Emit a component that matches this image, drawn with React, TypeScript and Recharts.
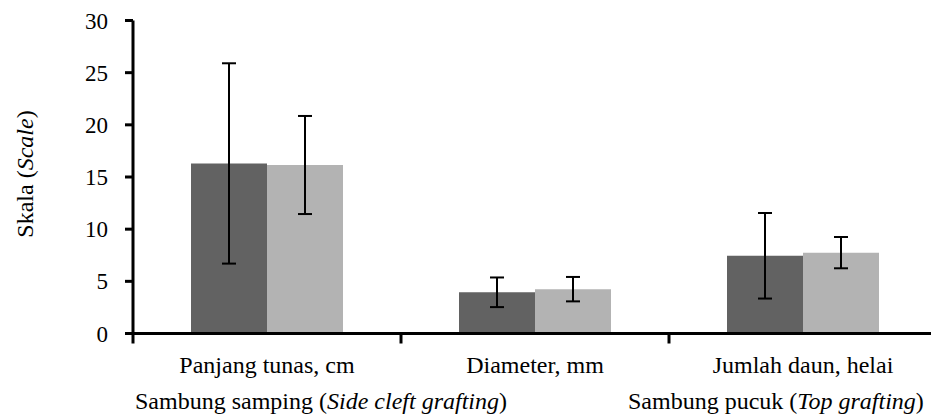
import React from 'react';
import { BarChart, Bar, XAxis, YAxis, ErrorBar } from 'recharts';

const categories = ['Panjang tunas, cm', 'Diameter, mm', 'Jumlah daun, helai'];
const sideValues = [16.3, 3.95, 7.45];
const sideErrors = [9.6, 1.42, 4.1];
const topValues = [16.15, 4.25, 7.75];
const topErrors = [4.7, 1.17, 1.5];
const yTicks = [0, 5, 10, 15, 20, 25, 30];
const seriesNames = [
  { plain: 'Sambung samping (', italic: 'Side cleft grafting', end: ')' },
  { plain: 'Sambung pucuk (', italic: 'Top grafting', end: ')' },
];
const yLabel = { plain: 'Skala (', italic: 'Scale', end: ')' };

const data = categories.map((name, i) => ({
  name,
  side: sideValues[i],
  sideErr: sideErrors[i],
  top: topValues[i],
  topErr: topErrors[i],
}));

const FONT = '"Liberation Serif", "Times New Roman", serif';
const FS = 23;
const LFS = 24;

function XTick(props: any) {
  const { x, y, payload, index, visibleTicksCount } = props;
  const half = payload && payload.offset ? payload.offset : 0;
  return (
    <g>
      <line x1={x - half} x2={x - half} y1={y} y2={y + 10} stroke="#000" strokeWidth={3} />
      {index === visibleTicksCount - 1 && (
        <line x1={x + half} x2={x + half} y1={y} y2={y + 10} stroke="#000" strokeWidth={3} />
      )}
      <text x={x} y={y + 39} textAnchor="middle" fontSize={LFS} fontFamily={FONT} fill="#000">
        {payload.value}
      </text>
    </g>
  );
}

function YLabel(props: any) {
  const vb = props.viewBox || {};
  const cx = (vb.x || 0) + 33;
  const cy = (vb.y || 0) + (vb.height || 0) / 2 - 3;
  return (
    <text
      x={cx}
      y={cy}
      textAnchor="middle"
      fontSize={LFS}
      fontFamily={FONT}
      fill="#000"
      transform={`rotate(-90, ${cx}, ${cy})`}
    >
      {yLabel.plain}
      <tspan fontStyle="italic">{yLabel.italic}</tspan>
      {yLabel.end}
    </text>
  );
}

const legendLefts = [135, 628];

export default function App() {
  return (
    <div
      style={{
        position: 'absolute',
        left: 0,
        top: 0,
        width: 931,
        height: 416,
        overflow: 'hidden',
        background: '#fff',
        fontFamily: FONT,
      }}
    >
      <BarChart
        width={940}
        height={416}
        data={data}
        margin={{ top: 20.5, right: 3, bottom: 42.5, left: 0 }}
        barGap={0}
        barSize={76}
      >
        <YAxis
          width={133}
          domain={[0, 30]}
          ticks={yTicks}
          interval={0}
          axisLine={{ stroke: '#000', strokeWidth: 3 }}
          tickLine={{ stroke: '#000', strokeWidth: 3 }}
          tickSize={8}
          tickMargin={17}
          tick={{ fill: '#000', fontSize: FS, fontFamily: FONT }}
          label={<YLabel />}
        />
        <XAxis
          dataKey="name"
          height={40}
          axisLine={{ stroke: '#000', strokeWidth: 3 }}
          tickLine={false}
          tickSize={0}
          tickMargin={0}
          interval={0}
          tick={<XTick />}
        />
        <Bar dataKey="side" name={seriesNames[0].plain + seriesNames[0].italic + seriesNames[0].end} fill="#626262" isAnimationActive={false}>
          <ErrorBar dataKey="sideErr" width={7} strokeWidth={2} stroke="#000" direction="y" />
        </Bar>
        <Bar dataKey="top" name={seriesNames[1].plain + seriesNames[1].italic + seriesNames[1].end} fill="#b3b3b3" isAnimationActive={false}>
          <ErrorBar dataKey="topErr" width={7} strokeWidth={2} stroke="#000" direction="y" />
        </Bar>
      </BarChart>
      {seriesNames.map((s, i) => (
        <div
          key={i}
          style={{
            position: 'absolute',
            left: legendLefts[i],
            top: 388,
            whiteSpace: 'nowrap',
            fontSize: LFS,
            lineHeight: 'normal',
            color: '#000',
          }}
        >
          {s.plain}
          <i>{s.italic}</i>
          {s.end}
        </div>
      ))}
    </div>
  );
}
